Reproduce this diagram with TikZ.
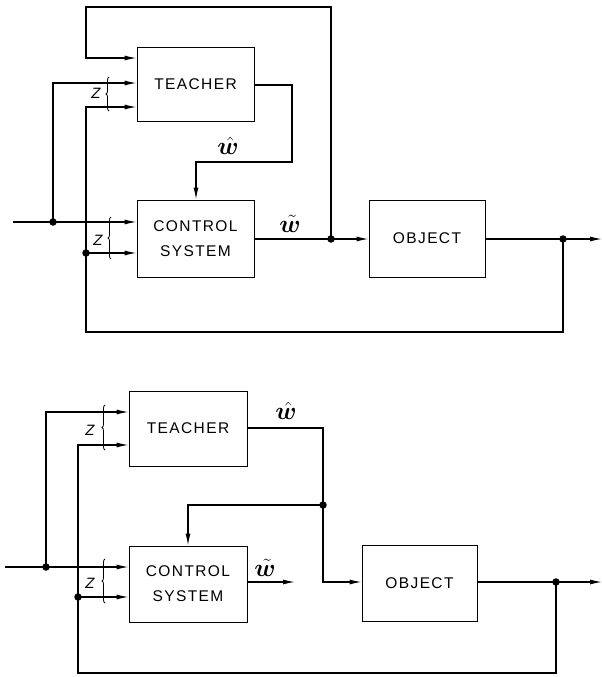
\documentclass[tikz,border=0pt]{standalone}
\usepackage{fontspec}
\usepackage{bm}
\usetikzlibrary{arrows.meta,decorations.pathreplacing}
\newfontfamily\lbl[LetterSpace=9]{Liberation Sans}
\newfontfamily\zfont{Liberation Sans}
\tikzset{
  box/.style={draw, line width=0.9pt, font=\lbl\fontsize{15.5}{25}\selectfont, align=center, inner sep=0pt},
  ln/.style={line width=1.2pt},
  arr/.style={line width=1.2pt, -{Latex[length=12pt,width=5pt]}},
  dot/.style={circle, fill, inner sep=0pt, minimum size=7.5pt},
  brc/.style={line width=0.8pt, decorate, decoration={brace, amplitude=3pt}},
  zlab/.style={font=\zfont\itshape\fontsize{15}{15}\selectfont, inner sep=0pt},
  wlab/.style={font=\fontsize{23}{23}\selectfont, inner sep=0pt}
}
\begin{document}
\begin{tikzpicture}[x=1pt,y=-1pt]
\useasboundingbox (0,0) rectangle (602,677);
% ---------- top diagram ----------
\node[box, minimum width=117pt, minimum height=74pt] (T1) at (195.5,84) {TEACHER};
\node[box, minimum width=117pt, minimum height=77pt] (C1) at (195.5,238.5) {CONTROL\\SYSTEM};
\node[box, minimum width=116pt, minimum height=77pt] (O1) at (427,238.5) {OBJECT};
\coordinate (inA) at (13,222);
\coordinate (jA) at (53,222);
\coordinate (jB) at (86,253);
\coordinate (jC) at (331,239);
\coordinate (jD) at (563,239);
\coordinate (outA) at (602,239);
\draw[arr] (jC) -- (331,7) -- (86,7) -- (86,58) -- (T1.west |- 86,58);
\draw[arr] (jA) -- (53,83) -- (T1.west |- 53,83);
\draw[arr] (jD) -- (563,332) -- (86,332) -- (86,107) -- (T1.west |- 86,107);
\draw[arr] (inA) -- (C1.west |- inA);
\draw[arr] (jB) -- (C1.west |- jB);
\draw[arr] (T1.east |- 0,85) -- (292,85) -- (292,162) -- (196,162) -- (C1.north -| 196,0);
\draw[ln] (C1.east |- jC) -- (jC);
\draw[arr] (jC) -- (O1.west |- jC);
\draw[ln] (O1.east |- jD) -- (jD);
\draw[arr] (jD) -- (outA);
\foreach \p in {jA,jB,jC,jD} \node[dot] at (\p) {};
\draw[brc] (109,111) -- (109,77);
\draw[brc] (111,259) -- (111,217);
\node[zlab] (z1) at (96,93) {Z};
\node[zlab] (z2) at (98,240) {Z};
\node[wlab] (w1) at (228,146) {$\hat{\bm{w}}$};
\node[wlab] (w2) at (290,224) {$\tilde{\bm{w}}$};
% ---------- bottom diagram ----------
\node[box, minimum width=118pt, minimum height=75pt] (T2) at (188,428.5) {TEACHER};
\node[box, minimum width=118pt, minimum height=76pt] (C2) at (188,584) {CONTROL\\SYSTEM};
\node[box, minimum width=115pt, minimum height=76pt] (O2) at (419.5,583) {OBJECT};
\coordinate (inB) at (5,567);
\coordinate (jE) at (46,567);
\coordinate (jF) at (78,597);
\coordinate (jG) at (323,505);
\coordinate (jH) at (556,582);
\coordinate (outB) at (602,582);
\draw[arr] (jE) -- (46,412) -- (T2.west |- 46,412);
\draw[arr] (jH) -- (556,673) -- (78,673) -- (78,445) -- (T2.west |- 78,445);
\draw[arr] (inB) -- (C2.west |- inB);
\draw[arr] (jF) -- (C2.west |- jF);
\draw[arr] (T2.east |- 0,428) -- (323,428) -- (323,582) -- (O2.west |- 323,582);
\draw[arr] (jG) -- (188,505) -- (C2.north -| 188,0);
\draw[arr] (C2.east |- 0,582) -- (295,582);
\draw[ln] (O2.east |- jH) -- (jH);
\draw[arr] (jH) -- (outB);
\foreach \p in {jE,jF,jG,jH} \node[dot] at (\p) {};
\draw[brc] (105,450) -- (105,405);
\draw[brc] (105,603) -- (105,559);
\node[zlab] (z3) at (90,430) {Z};
\node[zlab] (z4) at (90,583) {Z};
\node[wlab] (w3) at (286,411) {$\hat{\bm{w}}$};
\node[wlab] (w4) at (265,568) {$\tilde{\bm{w}}$};
\end{tikzpicture}
\end{document}
